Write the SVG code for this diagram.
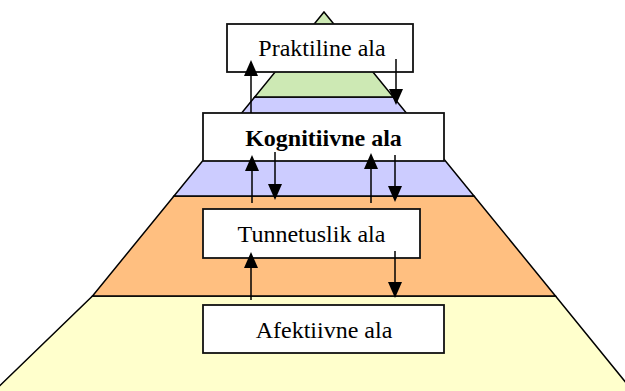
<svg xmlns="http://www.w3.org/2000/svg" width="625" height="391" viewBox="0 0 625 391">
<style>
.layer{stroke:#000;stroke-width:1.5;stroke-linejoin:miter}
.box{fill:#fff;stroke:#111;stroke-width:1.8}
.lbl{font-family:"Liberation Serif","Times New Roman",serif;font-size:24px;fill:#000;text-anchor:middle}
.con{stroke:#000;stroke-width:1.5;fill:none;marker-end:url(#ah)}
</style>
<defs>
<marker id="ah" viewBox="0 0 16 14" refX="14" refY="7" markerWidth="16" markerHeight="14" markerUnits="userSpaceOnUse" orient="auto">
<path d="M0,0 L16,7 L0,14 z" fill="#000"/>
</marker>
</defs>
<rect width="625" height="391" fill="#fff"/>
<g id="pyramid">
<polygon class="layer" fill="#FFFFCC" points="92.5,296 555.5,296 640,400 -15,400"/>
<polygon class="layer" fill="#FFBF80" points="174,196 474,196 555.5,296 92.5,296"/>
<polygon class="layer" fill="#CCCCFF" points="254.7,97 393.3,97 474,196 174,196"/>
<polygon class="layer" fill="#CDE9B4" points="324,12 393.3,97 254.7,97"/>
</g>
<g id="node-praktiline">
<rect class="box" x="227" y="24" width="186" height="48"/>
<text class="lbl" x="322" y="56">Praktiline ala</text>
</g>
<g id="node-kognitiivne">
<rect class="box" x="203" y="113" width="241" height="48"/>
<text class="lbl" x="323.5" y="145.5" font-weight="bold">Kognitiivne ala</text>
</g>
<g id="node-tunnetuslik">
<rect class="box" x="203" y="209" width="217" height="49"/>
<text class="lbl" x="311.5" y="242">Tunnetuslik ala</text>
</g>
<g id="node-afektiivne">
<rect class="box" x="203" y="305" width="241" height="48"/>
<text class="lbl" x="324" y="338">Afektiivne ala</text>
</g>
<g id="connectors">
<line class="con" x1="251" y1="113" x2="251" y2="62"/>
<line class="con" x1="396" y1="59" x2="396" y2="103"/>
<line class="con" x1="252" y1="203" x2="252" y2="157"/>
<line class="con" x1="275" y1="152" x2="275" y2="198"/>
<line class="con" x1="371" y1="203" x2="371" y2="155"/>
<line class="con" x1="395" y1="155" x2="395" y2="200"/>
<line class="con" x1="251" y1="300" x2="251" y2="254"/>
<line class="con" x1="395" y1="251" x2="395" y2="296"/>
</g>
</svg>
